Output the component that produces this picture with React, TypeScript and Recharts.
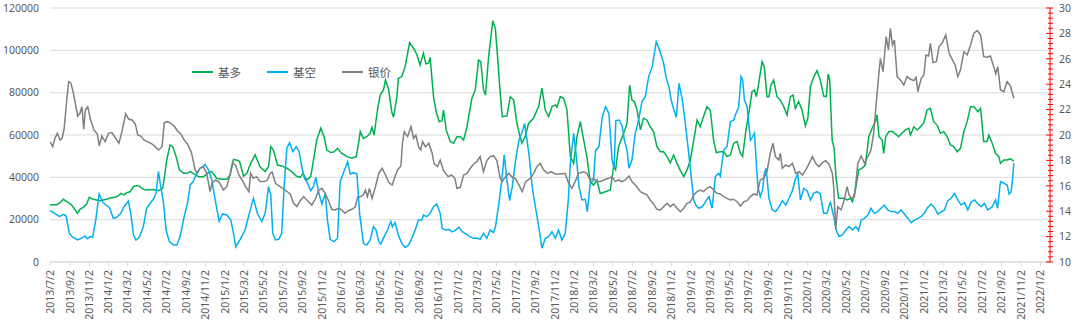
import React from 'react';
import { LineChart, Line, XAxis, YAxis, CartesianGrid } from 'recharts';

// X-axis tick labels (every two months)
const dateLabels = [
  '2013/7/2', '2013/9/2', '2013/11/2',
  '2014/1/2', '2014/3/2', '2014/5/2', '2014/7/2', '2014/9/2', '2014/11/2',
  '2015/1/2', '2015/3/2', '2015/5/2', '2015/7/2', '2015/9/2', '2015/11/2',
  '2016/1/2', '2016/3/2', '2016/5/2', '2016/7/2', '2016/9/2', '2016/11/2',
  '2017/1/2', '2017/3/2', '2017/5/2', '2017/7/2', '2017/9/2', '2017/11/2',
  '2018/1/2', '2018/3/2', '2018/5/2', '2018/7/2', '2018/9/2', '2018/11/2',
  '2019/1/2', '2019/3/2', '2019/5/2', '2019/7/2', '2019/9/2', '2019/11/2',
  '2020/1/2', '2020/3/2', '2020/5/2', '2020/7/2', '2020/9/2', '2020/11/2',
  '2021/1/2', '2021/3/2', '2021/5/2', '2021/7/2', '2021/9/2', '2021/11/2',
  '2022/1/2',
];

const leftTicks = [0, 20000, 40000, 60000, 80000, 100000, 120000];

// [weeks since 2013/7/2, value]
const duoPoints: [number, number][] = [
  [0,27100],[3.0,27100],[4.5,28000],[6.0,29600],[7.5,28500],[9.3,27400],[10.8,25400],[12.3,23000],[13.4,24900],[14.9,25800],
  [16.4,27400],[17.6,30600],[19.4,29600],[22.4,29000],[25.4,29600],[26.9,30200],[29.1,30600],[30.6,31200],[31.7,32400],[33.2,31700],
  [34.4,32800],[35.9,33200],[37.4,35600],[39.1,36100],[40.3,35600],[41.8,34300],[44.1,34000],[46.3,34300],[48.6,33700],[50.5,34800],
  [51.5,41900],[52.3,48200],[53.8,55300],[55.0,54500],[56.5,49800],[58.0,43500],[59.8,41900],[61.3,41900],[62.8,42700],[64.5,41600],
  [66.5,40300],[68.7,40300],[71.0,42200],[72.5,42700],[74.7,39500],[76.9,39100],[79.2,39100],[80.7,41100],[82.2,48500],[83.4,48200],
  [84.9,47600],[86.7,40600],[88.2,41900],[89.9,46600],[91.9,50600],[94.1,45000],[96.4,42700],[97.9,45000],[98.9,54500],[100.1,52900],
  [101.9,45800],[103.8,45400],[106.1,44300],[108.3,42700],[110.3,40600],[112.1,40000],[113.3,41900],[115.0,38700],[116.8,40300],[118.3,49800],
  [119.5,57600],[121.3,63200],[122.8,59200],[124.0,52900],[125.8,51700],[127.3,52100],[128.8,53700],[130.7,51300],[133.0,49800],[135.2,49000],
  [137.2,49800],[138.2,56100],[139.0,61600],
  [140.4,58400],[141.9,59200],[143.4,60800],[144.2,63600],[145.2,60000],[146.7,71800],[147.9,78900],[149.4,81300],[150.3,86000],[151.7,81600],
  [153.1,71000],[153.9,68400],[155.4,78100],[156.1,86800],[157.6,87600],[159.1,92300],[161.1,103600],[162.9,101000],[164.4,97800],[165.8,93100],
  [167.3,98600],[168.4,93600],[169.6,93900],[170.3,96700],[171.8,78100],[173.0,71000],[174.4,66300],[175.6,66800],[176.3,71800],[177.5,62400],
  [179.3,56900],[180.8,56100],[182.3,59200],[183.8,59200],[185.3,57600],[186.8,63900],[189.0,77300],[190.5,81300],[192.0,95400],[193.0,94700],
  [194.2,81300],[195.1,78900],[196.5,97000],[198.4,114000],[199.5,110400],[200.5,97000],[201.7,79700],[202.6,68700],[204.7,69000],[206.2,78100],
  [207.7,76500],[209.2,65500],[210.4,60000],[211.4,56100],[212.9,59200],[214.4,65500],[216.6,67900],[218.9,73400],[220.4,82100],[221.9,71800],
  [223.4,68700],[224.9,73400],[226.4,74200],[227.1,73100],[228.6,78100],[230.1,77300],[231.6,71800],[233.1,49800],[234.6,46600],[236.1,59200],
  [237.6,66300],[239.1,57600],[240.5,49800],[242.0,38000],[243.5,36400],[245.0,38700],[246.5,32400],[248.8,33200],[251.0,34000],[252.5,45000],
  [253.4,43500],[254.7,54500],[257.0,60800],[258.5,65500],[259.7,83600],[260.7,76500],[261.8,75800],[263.0,71800],[264.5,62400],[265.9,67900],
  [267.4,67100],[268.9,63900],[270.4,61600],[271.9,54500],[273.4,52100],[274.9,52100],[276.4,49800],[277.9,46900],[279.4,50600],[280.9,46600],
  [282.4,43200],[283.9,40300],[285.4,43500],[286.9,48200],[288.4,57600],[289.9,67100],[291.3,63900],[292.8,68700],[294.3,73400],[295.8,71800],
  [297.3,57600],[298.5,51700],[300.3,52100],
  [301.8,52100],[303.3,49800],[304.8,50600],[306.3,56100],[307.8,56900],[309.3,51300],[310.3,49800],[311.8,62400],[313.3,71800],[314.5,80500],
  [315.6,81300],[316.5,78100],[317.5,84400],[319.0,94700],[320.0,92300],[321.2,78100],[322.1,78100],[323.0,83600],[324.2,86000],[325.7,78100],
  [327.2,76500],[328.7,73400],[330.2,69500],[331.7,78100],[332.9,78900],[333.9,72600],[335.4,75800],[336.9,71800],[338.4,64300],[339.5,67900],
  [340.7,83200],[342.1,87300],[343.6,90400],[345.1,86000],[346.6,78400],[347.8,78100],[348.6,88800],[349.3,86000],[350.4,57600],[351.3,53700],
  [352.1,40300],[353.3,30100],[355.6,30100],[357.1,29300],[358.6,30100],[359.5,28500],[360.8,34000],[362.3,43500],[363.8,44300],[365.3,45800],
  [366.8,59200],[368.3,63200],[369.8,66300],[370.5,69500],[371.4,59200],[372.8,57600],[373.5,51300],[374.4,59200],[375.8,61600],[377.3,61600],
  [378.8,60500],[380.2,59200],[381.7,60800],[383.2,62400],[384.7,63200],[385.5,60000],[387.0,63900],[388.5,62400],[390.0,63900],[391.5,65800],
  [392.9,71800],[394.4,72600],[395.9,66300],[397.4,64700],[398.9,60800],[400.4,61600],[401.9,59200],[403.4,55300],[404.9,54500],[406.4,52100],
  [407.9,53700],[409.4,61600],[410.9,66300],[412.4,73400],[413.9,73400],[415.7,71000],[416.9,72600],[418.3,56900],[419.8,56900],[420.6,60000],
  [422.1,56100],[423.6,51300],[425.1,49800],[425.8,46600],[427.3,48200],[428.8,48200],[430.3,48800],[431.8,47600],
];

const kongPoints: [number, number][] = [
  [0,24300],[2.2,23000],[4.2,21400],[6.0,22500],[7.2,21700],[8.7,13500],[10.2,11700],[12.3,10400],[14.2,11300],[15.7,12300],
  [16.7,11000],[17.9,12000],[19.1,11700],[20.5,19800],[22.0,32100],[23.5,28500],[25.1,26900],[26.6,25800],[28.4,20600],[29.9,21100],
  [31.7,23000],[33.2,26100],[35.1,28800],[36.2,23000],[37.4,12800],[38.5,10400],[40.0,11700],[41.8,16700],[43.3,25400],[45.1,28000],
  [46.6,30100],[47.5,32400],[48.6,42700],[49.6,35600],[50.8,28500],[52.0,15100],[53.5,9600],[55.3,8000],[56.8,8000],[58.3,12000],
  [60.1,21400],[61.6,27700],[62.8,36400],[64.2,38000],[65.7,41900],[67.2,44300],[68.4,45000],[69.5,46100],[71.0,43500],[72.5,38700],
  [74.0,29300],[75.8,19100],[77.3,22700],[79.2,22200],[81.0,19800],[82.2,13500],[83.2,7200],[85.2,10700],[87.4,15100],[89.3,23000],
  [91.1,30100],[92.9,23000],[94.9,19100],[96.4,23000],[97.9,35600],[98.9,31700],[99.8,13500],[101.0,10400],[102.5,10700],[103.8,13500],
  [104.9,35600],[106.1,53700],[107.3,56400],[108.8,52100],[110.3,54500],[111.6,52100],[112.8,45000],[114.0,39500],[115.3,37500],[116.8,33700],
  [118.0,35600],[119.1,40000],[120.3,33200],[121.8,27400],[123.3,32400],[124.3,19800],[125.5,10700],[127.3,9600],[128.8,11200],[130.0,38000],
  [131.5,42200],[133.3,47400],[134.5,41600],[136.0,42200],[137.5,41600],[138.7,23000],
  [140.4,8800],[141.9,8000],[143.4,10400],[144.9,16700],[146.1,15100],[147.3,9600],[148.2,8500],[149.7,12000],[151.2,15100],[152.7,19100],
  [153.4,16700],[154.6,18600],[156.1,12800],[157.6,8800],[159.1,6900],[160.6,8000],[162.1,11200],[163.6,15100],[165.1,19800],[166.6,19800],
  [167.3,22200],[168.8,21400],[170.3,23000],[171.8,26100],[173.3,27400],[174.8,23000],[175.7,15900],[177.2,15100],[178.7,15400],[180.2,14200],
  [181.7,15100],[183.2,16400],[184.7,14300],[186.5,13200],[188.0,12000],[189.8,11200],[191.2,11300],[192.7,10700],[194.2,13500],[195.7,11200],
  [197.2,15100],[198.7,13900],[199.6,16700],[201.1,27700],[202.4,38700],[203.5,50600],[204.7,38700],[205.9,29000],[207.1,35600],[208.6,48200],
  [210.1,57600],[211.6,61600],[212.6,65500],[213.7,57600],[214.7,49800],[216.0,35600],[217.5,25800],[219.0,16400],[220.4,6500],[221.9,11200],
  [223.4,12000],[224.9,14300],[226.4,11200],[227.8,15100],[229.3,10400],[230.8,13500],[232.2,29300],[233.1,46600],[234.6,60800],[235.8,49800],
  [237.0,35600],[238.3,29300],[239.8,29600],[240.7,23800],[242.0,37200],[243.5,38700],[244.4,52600],[245.9,54500],[247.4,68400],[248.9,73400],
  [250.4,70200],[251.8,48200],[252.7,44300],[253.5,66800],[255.0,67100],[256.4,63900],[257.3,57600],[258.5,52900],[259.4,44300],[260.7,48200],
  [262.2,60800],[263.7,67100],[265.2,75800],[266.7,78100],[268.2,87600],[269.8,92300],[271.6,104100],[273.1,100200],[274.9,93900],[276.1,86800],
  [277.3,82800],[278.3,76500],[279.5,71800],[280.6,68400],[281.8,84400],[283.3,76500],[284.8,63900],[286.3,49800],[288.4,29300],[289.3,26900],
  [290.7,25400],[292.2,26100],[293.7,28500],[295.2,30900],[296.6,25400],[298.1,40300],[299.6,41900],
  [300.3,40600],[301.8,52900],[303.3,54500],[304.8,66300],[306.3,67100],[307.3,70200],[308.5,73100],[309.6,87600],[310.3,86000],[311.1,76500],
  [312.3,73400],[313.8,57600],[314.8,59200],[315.6,60800],[317.1,35600],[318.2,30900],[319.2,34000],[320.0,41900],[320.8,44300],[322.1,30100],
  [323.6,24600],[325.1,23800],[326.6,26100],[328.1,29000],[329.6,26900],[331.1,30100],[332.6,33700],[333.8,38700],[335.0,41600],[336.2,29300],
  [337.7,34800],[339.2,33700],[340.7,29300],[342.1,32400],[343.6,33200],[345.1,32100],[346.6,23000],[348.1,23000],[349.6,28500],[351.1,21400],
  [352.3,14800],[353.5,12000],[355.0,12800],[356.5,15100],[358.0,16700],[359.5,15100],[361.0,16700],[362.2,14800],[363.4,19800],[364.9,20600],
  [366.4,22200],[367.8,25400],[369.3,23000],[370.8,23800],[372.3,25400],[373.8,26900],[375.3,24600],[376.8,23800],[378.3,23800],[379.8,23000],
  [381.3,24600],[382.8,22700],[384.3,20600],[385.8,18600],[387.3,19800],[388.8,20600],[390.2,21400],[391.7,23000],[393.2,25800],[394.7,27400],
  [396.2,25800],[397.7,22700],[399.2,23600],[400.7,24600],[402.2,29000],[403.7,30100],[405.2,32400],[406.7,29300],[408.2,26900],[409.7,28000],
  [411.2,24600],[412.7,28500],[414.2,29300],[415.7,27400],[417.2,26100],[418.6,27700],[420.1,24600],[422.1,26100],[423.6,29300],[424.5,25400],
  [425.8,38000],[427.3,37200],[428.8,36400],[429.7,32100],[430.6,33200],[431.2,38700],[431.8,46600],
];

const silverPoints: [number, number][] = [
  [0,19.48],[1.2,19.08],[2.2,19.74],[3.3,20.13],[4.5,19.61],[5.4,19.74],[6.3,20.45],[7.5,22.76],[8.4,24.20],[9.3,24.12],
  [10.5,23.28],[11.4,22.44],[12.4,21.50],[13.4,21.71],[14.3,22.23],[15.1,20.45],[15.8,21.97],[16.9,22.23],[18.2,21.18],[19.7,20.40],
  [21.2,20.08],[22.1,19.14],[23.2,19.92],[24.7,19.48],[26.2,20.13],[27.7,20.19],[29.1,19.82],[30.9,19.35],[32.4,20.40],[33.9,21.66],
  [35.3,21.24],[36.8,21.18],[38.2,20.87],[39.3,20.00],[40.6,19.92],[42.1,19.61],[43.6,19.48],[45.1,19.35],[46.8,19.14],[48.6,18.82],
  [50.2,19.08],[51.2,20.97],[52.6,21.05],[54.1,20.92],[55.6,20.71],[57.1,20.34],[58.6,20.08],[60.1,19.61],[61.6,19.29],[63.4,18.61],
  [65.0,17.25],[66.0,16.98],[67.2,17.38],[68.7,17.51],[70.2,16.98],[71.7,15.54],[72.6,16.20],[74.1,16.46],[75.6,16.33],[77.7,15.67],
  [79.2,15.93],[80.7,16.93],[81.7,17.77],[83.1,17.64],[84.6,16.85],[86.1,16.46],[87.6,15.93],[89.1,15.54],[89.9,16.98],[91.1,16.59],
  [92.6,16.72],[94.1,16.33],[95.9,16.33],[97.4,16.46],[98.6,16.98],[99.5,17.11],[101.0,16.20],[103.1,15.93],[105.3,15.67],[107.6,15.36],
  [109.1,14.62],[110.6,14.36],[112.1,14.83],[113.6,15.15],[115.8,14.75],[117.3,14.49],[118.8,14.94],[120.3,15.62],[121.8,15.80],[123.3,15.41],
  [124.8,14.83],[126.2,14.15],[127.7,14.10],[129.2,14.23],[130.7,14.10],[132.2,13.83],[133.7,14.04],[135.2,14.15],[136.7,14.31],[137.8,15.09],
  [139.0,15.15],
  [140.4,15.28],[141.3,15.67],[142.2,15.15],[143.1,15.80],[144.3,15.01],[145.8,15.93],[147.3,16.98],[148.8,17.38],[150.3,16.85],[151.8,16.25],
  [153.3,16.06],[154.3,16.59],[155.7,17.25],[157.2,17.56],[157.9,19.35],[158.7,20.26],[160.2,19.87],[161.7,20.66],[162.9,19.74],[163.9,20.00],
  [165.2,19.03],[166.1,18.82],[166.9,19.48],[168.2,19.08],[169.7,19.35],[171.2,18.56],[172.1,17.72],[173.6,17.51],[174.8,18.03],[176.3,17.19],
  [178.4,16.72],[179.9,16.85],[181.4,16.59],[182.3,15.80],[183.8,15.88],[185.3,16.85],[186.8,16.98],[188.3,17.38],[189.8,17.72],[191.2,17.90],
  [192.7,18.30],[194.2,17.11],[195.7,17.98],[197.2,18.30],[198.7,18.37],[200.2,17.98],[201.7,16.59],[202.6,16.33],[204.1,16.72],[205.6,16.98],
  [207.1,16.67],[208.6,16.54],[210.1,16.06],[211.6,15.54],[213.1,16.33],[215.2,16.59],[216.7,16.98],[218.1,17.51],[219.6,17.77],[221.1,17.25],
  [222.9,16.98],[224.4,17.11],[226.4,16.93],[228.6,16.93],[230.8,16.98],[232.3,16.20],[233.8,15.80],[235.3,16.33],[236.8,16.98],[239.1,17.11],
  [240.5,16.98],[242.0,16.46],[243.5,16.59],[245.0,16.33],[246.5,16.33],[248.0,16.46],[250.3,16.59],[251.8,16.72],[253.2,16.33],[254.7,16.46],
  [256.2,16.33],[257.7,16.46],[259.4,16.77],[260.7,16.33],[262.2,16.06],[264.5,15.54],[265.9,15.41],[267.4,15.28],[268.9,14.88],[270.4,14.57],
  [271.9,14.15],[273.4,14.10],[274.9,14.36],[276.4,14.62],[277.9,14.36],[279.4,14.57],[280.9,14.23],[282.4,13.96],[283.9,14.23],[285.4,14.62],
  [286.9,14.73],[288.4,15.28],[289.9,15.54],[291.3,15.67],[292.8,15.54],[294.3,15.80],[295.8,15.93],[297.3,15.67],[298.8,15.41],[300.3,15.36],
  [301.8,15.15],[303.3,15.01],[304.8,14.88],[306.3,14.94],[307.8,14.75],[309.3,14.41],[310.8,14.75],[312.3,14.83],[313.8,15.15],[315.3,15.36],
  [316.7,15.28],[318.2,16.46],[319.7,16.59],[321.2,17.11],[322.7,18.56],[323.9,19.35],[325.0,18.30],[326.5,18.03],[327.2,18.56],[328.1,17.38],
  [329.6,17.64],[331.1,17.51],[332.6,17.77],[334.1,16.98],[335.6,17.11],[337.1,16.85],[338.6,17.25],[340.1,17.77],[341.6,18.30],[343.0,17.77],
  [344.5,17.51],[346.0,17.82],[347.5,17.98],[349.0,17.72],[350.5,16.98],[351.1,15.93],[352.0,12.57],[352.9,14.36],[354.4,14.10],[355.9,14.94],
  [357.1,15.93],[358.0,15.28],[358.9,15.01],[360.4,15.15],[361.9,17.77],[363.4,18.35],[364.9,17.77],[366.4,18.30],[367.8,18.82],[369.0,20.13],
  [369.9,21.97],[370.8,23.81],[372.0,26.04],[373.2,24.99],[374.6,27.75],[375.6,26.70],[376.5,28.40],[377.4,27.09],[378.3,27.48],[379.5,24.60],
  [381.0,24.33],[382.5,23.94],[384.0,24.60],[385.5,24.39],[387.0,24.28],[388.0,24.54],[388.8,23.41],[390.3,24.46],[391.5,24.73],[392.4,26.30],
  [393.6,26.22],[394.4,27.22],[395.6,25.70],[397.1,25.78],[398.3,26.96],[399.8,27.27],[401.3,27.88],[402.8,26.43],[404.3,25.91],[405.5,25.51],
  [406.7,24.60],[407.9,25.12],[409.4,26.56],[410.9,26.30],[412.4,27.09],[413.9,28.01],[415.4,28.22],[416.9,27.88],[418.3,26.17],[419.8,26.12],
  [421.3,26.22],[422.8,25.38],[423.7,24.81],[424.6,25.38],[425.8,23.55],[427.3,23.41],[428.8,24.20],[430.3,23.86],[431.8,22.89],
];

const START = Date.UTC(2013, 6, 2);
const WEEK_MS = 7 * 86400000;
const toWeek = (s: string) => {
  const [y, m, d] = s.split('/').map(Number);
  return (Date.UTC(y, m - 1, d) - START) / WEEK_MS;
};
const xTicks = dateLabels.map(toWeek);
const rightTicks = Array.from({ length: 51 }, (_, i) => Math.round((10 + i * 0.4) * 10) / 10);

const toRows = (pts: [number, number][]) => pts.map(([w, v]) => ({ w, v }));
const duoRows = toRows(duoPoints);
const kongRows = toRows(kongPoints);
const silverRows = toRows(silverPoints);

const AXIS_FONT = '"Noto Sans", "Open Sans", sans-serif';
const LABEL_COLOR = '#595959';

const XTick = (props: any) => {
  const { x, y, payload } = props;
  const idx = xTicks.findIndex((t) => Math.abs(t - payload.value) < 1e-6);
  const label = idx >= 0 ? dateLabels[idx] : '';
  return (
    <g transform={`translate(${x},${y})`}>
      <text transform="rotate(-90)" x={0} y={0} dy="0.36em" textAnchor="end" fontSize={10.5} fontFamily={AXIS_FONT} fill={LABEL_COLOR}>
        {label}
      </text>
    </g>
  );
};

const RightTick = (props: any) => {
  const { x, y, payload } = props;
  const v = payload.value as number;
  const major = Math.abs(v / 2 - Math.round(v / 2)) < 1e-6;
  return (
    <g>
      <line x1={major ? x - 4 : x - 2} x2={x + 3} y1={y} y2={y} stroke="#ff0000" strokeWidth={1} />
      {major && (
        <text x={x + 9} y={y} dy="0.36em" textAnchor="start" fontSize={10.5} fontFamily={AXIS_FONT} fill={LABEL_COLOR}>
          {v}
        </text>
      )}
    </g>
  );
};

const legendItems = [
  { name: '基多', color: '#00b050' },
  { name: '基空', color: '#00b0f0' },
  { name: '银价', color: '#808080' },
];

export default function App() {
  return (
    <div style={{ position: 'relative', width: 1080, height: 324 }}>
      <style>{`body{margin:0;}`}</style>
      <LineChart width={1080} height={324} margin={{ top: 8, right: 0, bottom: 0, left: 0 }}>
        <CartesianGrid yAxisId="left" vertical={false} stroke="#d9d9d9" strokeWidth={1} />
        <XAxis
          dataKey="w"
          type="number"
          domain={[0, 448]}
          ticks={xTicks}
          interval={0}
          allowDataOverflow
          height={62}
          tick={<XTick />}
          tickSize={4}
          tickMargin={4}
          stroke="#d9d9d9"
          tickLine={{ stroke: '#d9d9d9' }}
          axisLine={{ stroke: '#d9d9d9' }}
        />
        <YAxis
          yAxisId="left"
          orientation="left"
          width={50}
          domain={[0, 120000]}
          ticks={leftTicks}
          interval={0}
          axisLine={false}
          tickLine={false}
          tickSize={0}
          tickMargin={11}
          tick={{ fontSize: 10.5, fill: LABEL_COLOR, fontFamily: AXIS_FONT }}
        />
        <YAxis
          yAxisId="right"
          orientation="right"
          width={30}
          domain={[10, 30]}
          ticks={rightTicks}
          interval={0}
          axisLine={{ stroke: '#ff0000' }}
          tickLine={false}
          tickSize={0}
          tickMargin={0}
          tick={<RightTick />}
        />
        <Line yAxisId="left" data={duoRows} dataKey="v" name="基多" type="linear" stroke="#00b050" strokeWidth={1.5} dot={false} isAnimationActive={false} />
        <Line yAxisId="left" data={kongRows} dataKey="v" name="基空" type="linear" stroke="#00b0f0" strokeWidth={1.5} dot={false} isAnimationActive={false} />
        <Line yAxisId="right" data={silverRows} dataKey="v" name="银价" type="linear" stroke="#808080" strokeWidth={1.5} dot={false} isAnimationActive={false} />
      </LineChart>
      <div
        style={{
          position: 'absolute',
          top: 63,
          left: 192,
          height: 18,
          display: 'flex',
          alignItems: 'center',
          fontFamily: '"Noto Sans CJK SC", sans-serif',
          fontSize: 11.5,
          color: LABEL_COLOR,
          whiteSpace: 'nowrap',
        }}
      >
        {legendItems.map((it) => (
          <div key={it.name} style={{ display: 'flex', alignItems: 'center', marginRight: 26 }}>
            <span style={{ display: 'inline-block', width: 21, height: 2, background: it.color, marginRight: 5 }} />
            <span>{it.name}</span>
          </div>
        ))}
      </div>
    </div>
  );
}
